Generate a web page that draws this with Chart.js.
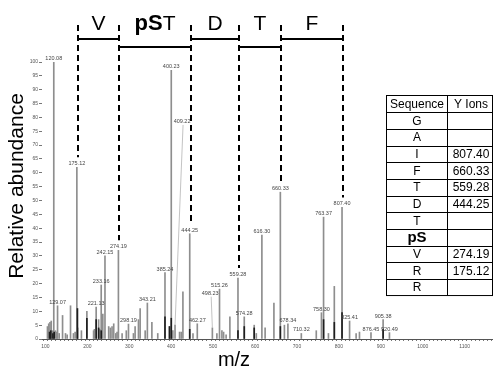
<!DOCTYPE html>
<html>
<head>
<meta charset="utf-8">
<script src="https://cdn.jsdelivr.net/npm/chart.js@4.4.0/dist/chart.umd.min.js"></script>
<style>
  html, body { margin: 0; padding: 0; background: #fff; }
  #wrap { position: relative; width: 493px; height: 370px; }
</style>
</head>
<body>
<div id="wrap"><canvas id="spectrum" width="493" height="370"></canvas></div>
<script>
// ===== DATA =====
// MS/MS peaks (m/z, relative abundance)
const peakMz = [
    105, 108, 111, 114, 117, 120.08, 124, 127, 129.07, 133, 141, 148, 152, 160,
    167, 171, 175.12, 177, 186, 199, 215, 217, 221.13, 227, 230, 233.16, 237,
    242.15, 251, 255, 259, 263, 268, 271, 274.19, 283, 293, 298.19, 310, 314,
    322, 326, 338, 343.21, 354, 368, 385.24, 396, 400.23, 404, 409.22, 420, 424,
    428, 444.25, 452, 462.27, 498.23, 509, 515.26, 521, 525, 531, 540, 559.28,
    574.28, 598, 603, 616.30, 624, 645, 660.33, 670, 678.34, 710.32, 746, 758.30,
    763.37, 775, 789, 807.40, 825.41, 841, 849, 876.45, 905.38, 920.49,
];
const peakAbundance = [
    4.5, 5.5, 6, 6.5, 3, 100, 3, 2.5, 12, 2, 8.5, 2, 1.5, 12,
    2, 2.5, 62, 4, 3, 10, 3, 3.5, 11.5, 7, 3.5, 19.5, 9,
    30, 4.5, 4, 4.5, 5.5, 2, 2.5, 32, 2, 3, 5.4, 2, 4.5,
    7, 11, 3, 13, 6, 2, 24, 4.5, 97, 3, 5, 2.5, 2.5,
    17, 38, 2, 5.5, 4, 2, 18, 3, 2.5, 1.5, 8, 22,
    8, 5, 2, 37.5, 4, 13, 53, 5, 5.5, 2, 3, 9.5,
    44, 2, 19, 47.5, 6.5, 2, 2.5, 2.3, 7, 2.3,
];

// darker overlay trace
const overlayMz = [
    110, 113, 118, 121, 176.5, 199, 221.13, 227, 233.16, 385.24, 396, 400.23,
    444.25, 559.28, 574.28, 598, 660.33, 763.37, 789, 807.40, 905.38,
];
const overlayAbundance = [
    2.5, 3, 2, 2.5, 11, 7.5, 7, 4, 3, 8, 4.5, 7.5,
    3.5, 3, 4.5, 4, 4.5, 7, 6, 9.5, 3.5,
];

const labeledPeaks = [
    120.08, 129.07, 175.12, 221.13, 233.16, 242.15, 274.19, 298.19, 343.21,
    385.24, 400.23, 409.22, 444.25, 462.27, 498.23, 515.26, 559.28, 574.28,
    616.30, 660.33, 678.34, 710.32, 758.30, 763.37, 807.40, 825.41, 876.45,
    905.38, 920.49,
];

// sequence table
const tableSequence = ["G", "A", "I", "F", "T", "D", "T", "pS", "V", "R", "R"];
const tableYIons = [null, null, 807.40, 660.33, 559.28, 444.25, null, null, 274.19, 175.12, null];

// residues between consecutive y ions
const residues = ["V", "pST", "D", "T", "F"];

const yIonMz = tableYIons.filter((v) => v !== null).sort((a, b) => a - b);

const FONT = '"Liberation Sans", Arial, sans-serif';

// ===== DECORATIONS =====
// labels lifted off their peak with a leader line: [label m/z, label abundance]
const leaderPlacement = { 409.22: [426, 78], 498.23: [493, 16] };

const spectrumDecor = {
    id: "spectrumDecor",
    afterDraw(chart) {
        const { ctx } = chart;
        const xs = chart.scales.x;
        const ys = chart.scales.y;
        const px = (mz) => xs.getPixelForValue(mz);
        const py = (v) => ys.getPixelForValue(v);
        const heightAt = (mz) => peakAbundance[peakMz.indexOf(mz)];

        ctx.save();

        // peak labels
        ctx.font = "5.5px " + FONT;
        ctx.fillStyle = "#444";
        ctx.textAlign = "center";
        ctx.textBaseline = "alphabetic";
        labeledPeaks.forEach((mz) => {
            const top = py(heightAt(mz));
            const lead = leaderPlacement[mz];
            if (lead) {
                const lx = px(lead[0]);
                const ly = py(lead[1]);
                ctx.fillText(mz.toFixed(2), lx, ly);
                ctx.strokeStyle = "#b4b4b4";
                ctx.lineWidth = 0.8;
                ctx.beginPath();
                ctx.moveTo(lx + 1, ly + 2);
                ctx.lineTo(px(mz), top);
                ctx.stroke();
            } else {
                ctx.fillText(mz.toFixed(2), px(mz), top - 2);
            }
        });

        // dashed y-ion markers
        ctx.strokeStyle = "#000";
        ctx.lineWidth = 2;
        ctx.setLineDash([6, 4]);
        yIonMz.forEach((mz) => {
            const x = Math.round(px(mz)) + 1;
            ctx.beginPath();
            ctx.moveTo(x, 25);
            ctx.lineTo(x, py(heightAt(mz)) - 10);
            ctx.stroke();
        });
        ctx.setLineDash([]);

        // residue brackets
        ctx.fillStyle = "#000";
        ctx.textBaseline = "alphabetic";
        residues.forEach((res, i) => {
            const x1 = Math.round(px(yIonMz[i])) + 1;
            const x2 = Math.round(px(yIonMz[i + 1])) + 1;
            const level = i % 2 === 0 ? 39 : 47;
            ctx.beginPath();
            ctx.moveTo(x1, level);
            ctx.lineTo(x2, level);
            ctx.stroke();

            const cx = (x1 + x2) / 2;
            if (res.startsWith("pS")) {
                const boldFont = "bold 22px " + FONT;
                const plainFont = "21px " + FONT;
                ctx.font = boldFont;
                const w1 = ctx.measureText("pS").width;
                ctx.font = plainFont;
                const w2 = ctx.measureText(res.slice(2)).width;
                const start = cx - (w1 + w2) / 2;
                ctx.textAlign = "left";
                ctx.font = boldFont;
                ctx.fillText("pS", start, 30);
                ctx.font = plainFont;
                ctx.fillText(res.slice(2), start + w1, 30);
            } else {
                ctx.textAlign = "center";
                ctx.font = "21px " + FONT;
                ctx.fillText(res, cx, 30);
            }
        });

        // axis titles
        ctx.fillStyle = "#000";
        ctx.textAlign = "center";
        ctx.font = "21px " + FONT;
        ctx.save();
        ctx.translate(23, 186);
        ctx.rotate(-Math.PI / 2);
        ctx.fillText("Relative abundance", 0, 0);
        ctx.restore();
        ctx.font = "20px " + FONT;
        ctx.fillText("m/z", 234, 366);

        // sequence table
        const left = 386.5, mid = 447.5, right = 492.5, top = 95.5, rowH = 16.67;
        const rows = [["Sequence", "Y Ions"]].concat(
            tableSequence.map((s, i) => [s, tableYIons[i] === null ? "" : tableYIons[i].toFixed(2)])
        );
        ctx.strokeStyle = "#000";
        ctx.lineWidth = 1;
        ctx.strokeRect(left, top, right - left, rowH * rows.length);
        ctx.beginPath();
        ctx.moveTo(mid, top);
        ctx.lineTo(mid, top + rowH * rows.length);
        for (let r = 1; r < rows.length; r++) {
            const yy = Math.round(top + r * rowH) + 0.5;
            ctx.moveTo(left, yy);
            ctx.lineTo(right, yy);
        }
        ctx.stroke();

        ctx.textAlign = "center";
        rows.forEach((row, r) => {
            const base = top + r * rowH + rowH / 2 + 4;
            ctx.font = row[0] === "pS" ? "bold 15px " + FONT : "12px " + FONT;
            ctx.fillText(row[0], (left + mid) / 2, row[0] === "pS" ? base + 1 : base);
            ctx.font = "12px " + FONT;
            ctx.fillText(row[1], (mid + right) / 2 + 1, base);
        });

        ctx.restore();
    },
};

// ===== CHART =====
function toPoints(xsArr, ysArr) {
    return xsArr.map((x, i) => ({ x: x, y: ysArr[i] }));
}

new Chart(document.getElementById("spectrum"), {
    type: "bar",
    data: {
        datasets: [
            {
                label: "spectrum",
                data: toPoints(peakMz, peakAbundance),
                backgroundColor: "#8e8e8e",
                barThickness: 1,
                grouped: false,
                order: 2,
            },
            {
                label: "overlay",
                data: toPoints(overlayMz, overlayAbundance),
                backgroundColor: "#1e1e1e",
                barThickness: 1,
                grouped: false,
                order: 1,
            },
        ],
    },
    options: {
        responsive: false,
        animation: false,
        layout: { padding: { top: 62, right: 1, left: 0, bottom: 0 } },
        plugins: {
            legend: { display: false },
            tooltip: { enabled: false },
        },
        scales: {
            x: {
                type: "linear",
                min: 97,
                max: 1160,
                afterBuildTicks: (scale) => {
                    const ticks = [];
                    for (let v = 100; v <= 1160; v += 10) ticks.push({ value: v });
                    scale.ticks = ticks;
                },
                afterFit: (scale) => {
                    scale.height = 31;
                },
                ticks: {
                    autoSkip: false,
                    maxRotation: 0,
                    padding: 3,
                    color: "#555",
                    font: { size: 5, family: FONT },
                    callback: (v) => (v % 100 === 0 ? v : ""),
                },
                grid: {
                    drawOnChartArea: false,
                    tickLength: 2,
                    color: "#777",
                },
                border: { color: "#555", width: 1 },
            },
            y: {
                min: 0,
                max: 100,
                afterFit: (scale) => {
                    scale.width = 42;
                },
                ticks: {
                    stepSize: 5,
                    padding: 1,
                    color: "#555",
                    font: { size: 5, family: FONT },
                },
                grid: {
                    drawOnChartArea: false,
                    tickLength: 3,
                    color: "#777",
                },
                border: { display: false },
            },
        },
    },
    plugins: [spectrumDecor],
});
</script>
</body>
</html>
